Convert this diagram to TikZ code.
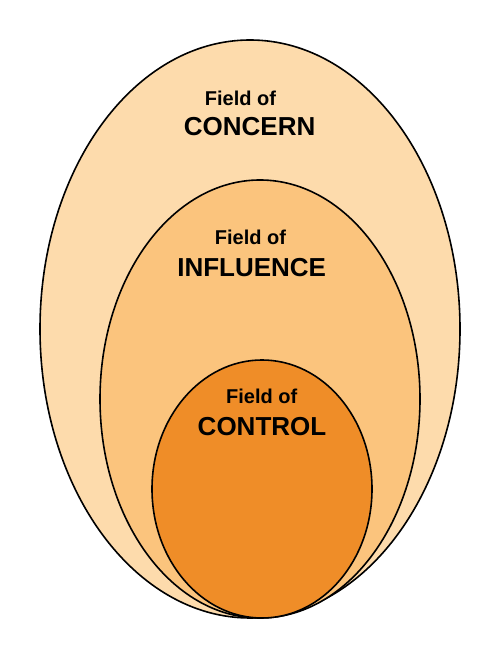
\documentclass[tikz,border=0pt]{standalone}
\usepackage{fontspec}
\setmainfont{Liberation Sans}
\definecolor{concernpeach}{RGB}{253, 219, 172}
\definecolor{influenceorange}{RGB}{251, 196, 125}
\definecolor{controlorange}{RGB}{239, 141, 40}
\usepackage{tikz}
\usetikzlibrary{positioning}

\tikzset{
  field/.style={draw=black, line width=1.6pt},
  smalllabel/.style={anchor=base, inner sep=0pt, font=\bfseries\fontsize{20}{24}\selectfont},
  biglabel/.style={anchor=base, inner sep=0pt, font=\bfseries\fontsize{26}{30}\selectfont}
}

\begin{document}
\begin{tikzpicture}[x=1pt, y=1pt]
  \useasboundingbox (0, 0) rectangle (500, 660);
  % nested fields, all touching at the bottom
  \draw[field, fill=concernpeach] (250, 331) ellipse [x radius=210, y radius=289];
  \draw[field, fill=influenceorange] (260, 261) ellipse [x radius=160, y radius=219];
  \draw[field, fill=controlorange] (262, 171) ellipse [x radius=110, y radius=129];
  % labels
  \node[smalllabel] (concernof) at (240.5, 554) {Field of};
  \node[biglabel] (concern) at (249.6, 524) {CONCERN};
  \node[smalllabel] (influenceof) at (250.5, 415) {Field of};
  \node[biglabel] (influence) at (251.7, 383) {INFLUENCE};
  \node[smalllabel] (controlof) at (261.7, 256) {Field of};
  \node[biglabel] (control) at (262, 224) {CONTROL};
\end{tikzpicture}
\end{document}
